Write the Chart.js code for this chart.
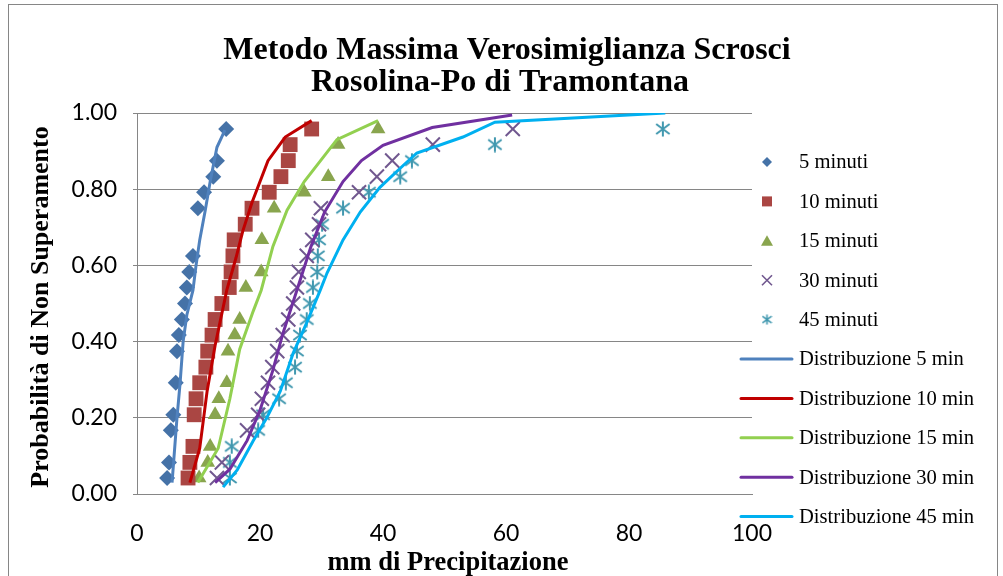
<!DOCTYPE html>
<html>
<head>
<meta charset="utf-8">
<script src="https://cdn.jsdelivr.net/npm/chart.js@4.4.1/dist/chart.umd.min.js"></script>
<style>
  body { margin: 0; background: #fff; }
  canvas { display: block; }
</style>
</head>
<body>
<canvas id="chart" width="1003" height="576"></canvas>
<script>
// observed values (mm) and non-exceedance probability
const x5 = [4.9, 5.2, 5.5, 5.9, 6.3, 6.5, 6.8, 7.3, 7.8, 8.1, 8.5, 9.1, 9.9, 10.9, 12.4, 13.0, 14.5];
const p5 = [0.042, 0.083, 0.167, 0.208, 0.292, 0.375, 0.417, 0.458, 0.500, 0.542, 0.583, 0.625, 0.750, 0.792, 0.833, 0.875, 0.958];

const x10 = [8.3, 8.6, 9.1, 9.3, 9.6, 10.2, 11.2, 11.5, 12.2, 12.7, 13.8, 15.0, 15.3, 15.6, 15.8, 17.6, 18.7, 21.5, 23.4, 24.6, 24.9, 28.4];
const p10 = [0.042, 0.083, 0.125, 0.208, 0.250, 0.292, 0.333, 0.375, 0.417, 0.458, 0.500, 0.542, 0.583, 0.625, 0.667, 0.708, 0.750, 0.792, 0.833, 0.875, 0.917, 0.958];

const x15 = [10.1, 11.5, 11.9, 12.7, 13.3, 14.6, 14.8, 15.9, 16.7, 17.7, 20.2, 20.3, 22.3, 27.2, 31.1, 32.7, 39.2];
const p15 = [0.042, 0.083, 0.125, 0.208, 0.250, 0.292, 0.375, 0.417, 0.458, 0.542, 0.583, 0.667, 0.750, 0.792, 0.833, 0.917, 0.958];

const x30 = [13.0, 13.8, 17.9, 19.7, 20.3, 21.3, 22.0, 22.8, 23.7, 24.6, 25.4, 26.0, 26.3, 27.6, 28.5, 29.6, 29.9, 36.1, 39.0, 41.5, 48.1, 61.1];
const p30 = [0.042, 0.083, 0.167, 0.208, 0.250, 0.292, 0.333, 0.375, 0.417, 0.458, 0.500, 0.542, 0.583, 0.625, 0.667, 0.708, 0.750, 0.792, 0.833, 0.875, 0.917, 0.958];

const x45 = [15.1, 15.1, 15.4, 19.7, 20.5, 23.1, 24.2, 25.7, 26.0, 26.5, 27.6, 28.1, 28.6, 29.3, 29.4, 29.6, 30.1, 33.5, 37.7, 42.8, 44.7, 58.2, 85.5];
const p45 = [0.042, 0.083, 0.125, 0.167, 0.208, 0.250, 0.292, 0.333, 0.375, 0.417, 0.458, 0.500, 0.542, 0.583, 0.625, 0.667, 0.708, 0.750, 0.792, 0.833, 0.875, 0.917, 0.958];

// fitted distributions
const dx5 = [5.7, 6.5, 7.0, 7.5, 8.1, 9.1, 9.6, 10.2, 11.1, 11.9, 13.0, 14.3];
const dp5 = [0.03, 0.20, 0.29, 0.40, 0.47, 0.535, 0.60, 0.667, 0.745, 0.82, 0.91, 0.955];

const dx10 = [8.6, 10.2, 11.4, 12.7, 14.6, 16.1, 17.2, 18.7, 21.3, 24.1, 28.4];
const dp10 = [0.03, 0.12, 0.27, 0.39, 0.535, 0.62, 0.69, 0.765, 0.875, 0.937, 0.98];

const dx15 = [9.9, 13.2, 15.1, 16.7, 18.9, 20.2, 22.1, 24.4, 27.2, 32.5, 39.2];
const dp15 = [0.03, 0.12, 0.25, 0.38, 0.48, 0.535, 0.65, 0.745, 0.82, 0.93, 0.98];

const dx30 = [12.7, 15.1, 17.9, 20.0, 22.1, 23.7, 26.0, 28.3, 30.5, 33.5, 36.5, 40.0, 48.0, 61.0];
const dp30 = [0.03, 0.065, 0.14, 0.22, 0.325, 0.42, 0.535, 0.65, 0.74, 0.82, 0.875, 0.915, 0.962, 0.995];

const dx45 = [14.0, 16.3, 18.9, 21.1, 23.3, 25.4, 27.6, 29.8, 30.9, 33.5, 36.3, 39.5, 42.8, 45.5, 53.0, 58.2, 85.9];
const dp45 = [0.018, 0.063, 0.14, 0.20, 0.27, 0.37, 0.45, 0.535, 0.58, 0.667, 0.74, 0.805, 0.855, 0.895, 0.937, 0.976, 1.0];

const xTicks = [0, 20, 40, 60, 80, 100];
const yTicks = [0, 0.2, 0.4, 0.6, 0.8, 1.0];

const pts = (xs, ys) => xs.map((v, i) => ({ x: v, y: ys[i] }));

// excel style asterisk marker
function asterisk(size, color, lw) {
  const c = document.createElement("canvas");
  c.width = size; c.height = size;
  const g = c.getContext("2d");
  g.strokeStyle = color;
  g.lineWidth = lw;
  const m = size / 2, d = size * 0.42;
  g.beginPath();
  g.moveTo(m, 0.5); g.lineTo(m, size - 0.5);
  g.moveTo(m - d, m - d * 0.75); g.lineTo(m + d, m + d * 0.75);
  g.moveTo(m + d, m - d * 0.75); g.lineTo(m - d, m + d * 0.75);
  g.stroke();
  return c;
}

const teal = "#4198AF";
const star = asterisk(16, teal, 2);

const markerSets = [
  { label: "5 minuti", data: pts(x5, p5), pointStyle: "rectRot", radius: 8, color: "#4572A7" },
  { label: "10 minuti", data: pts(x10, p10), pointStyle: "rect", radius: 10.5, color: "#AA4643" },
  { label: "15 minuti", data: pts(x15, p15), pointStyle: "triangle", radius: 8.5, color: "#89A54E" },
  { label: "30 minuti", data: pts(x30, p30), pointStyle: "crossRot", radius: 10, color: "#71588F" },
  { label: "45 minuti", data: pts(x45, p45), pointStyle: star, radius: 8, color: teal }
];

const lineSets = [
  { label: "Distribuzione 5 min", data: pts(dx5, dp5), color: "#4F81BD" },
  { label: "Distribuzione 10 min", data: pts(dx10, dp10), color: "#C00000" },
  { label: "Distribuzione 15 min", data: pts(dx15, dp15), color: "#92D050" },
  { label: "Distribuzione 30 min", data: pts(dx30, dp30), color: "#7030A0" },
  { label: "Distribuzione 45 min", data: pts(dx45, dp45), color: "#00B0F0" }
];

const datasets = [];
markerSets.forEach((s) => {
  const cross = s.pointStyle === "crossRot";
  datasets.push({
    label: s.label,
    data: s.data,
    showLine: false,
    pointStyle: s.pointStyle,
    pointRadius: s.radius,
    pointHoverRadius: s.radius,
    pointBackgroundColor: s.color,
    pointBorderColor: s.color,
    pointBorderWidth: cross ? 2 : 0,
    order: 2
  });
});
lineSets.forEach((s) => {
  datasets.push({
    label: s.label,
    data: s.data,
    showLine: true,
    borderColor: s.color,
    borderWidth: 3,
    pointRadius: 0,
    pointHoverRadius: 0,
    tension: 0,
    fill: false,
    order: 1
  });
});

const serif = "'Liberation Serif', 'Times New Roman', serif";
const sans = "Lato, 'Liberation Sans', sans-serif";

function drawMarker(ctx, s, x, y) {
  ctx.save();
  ctx.fillStyle = s.color;
  ctx.strokeStyle = s.color;
  const r = 5;
  ctx.beginPath();
  if (s.pointStyle === "rectRot") {
    ctx.moveTo(x, y - r); ctx.lineTo(x + r, y); ctx.lineTo(x, y + r); ctx.lineTo(x - r, y);
    ctx.closePath(); ctx.fill();
  } else if (s.pointStyle === "rect") {
    ctx.rect(x - 5, y - 5, 10, 10); ctx.fill();
  } else if (s.pointStyle === "triangle") {
    ctx.moveTo(x, y - 5.5); ctx.lineTo(x + 6, y + 5); ctx.lineTo(x - 6, y + 5);
    ctx.closePath(); ctx.fill();
  } else if (s.pointStyle === "crossRot") {
    ctx.lineWidth = 1.6;
    ctx.moveTo(x - 5, y - 5); ctx.lineTo(x + 5, y + 5);
    ctx.moveTo(x + 5, y - 5); ctx.lineTo(x - 5, y + 5);
    ctx.stroke();
  } else {
    const img = asterisk(11, s.color, 1.6);
    ctx.drawImage(img, x - 5.5, y - 5.5);
  }
  ctx.restore();
}

const decor = {
  id: "decor",
  afterDraw(chart) {
    const ctx = chart.ctx;
    ctx.save();
    // outer frame
    ctx.strokeStyle = "#868686";
    ctx.lineWidth = 1;
    ctx.strokeRect(8.5, 4.5, 989, 600);

    // title
    ctx.fillStyle = "#000";
    ctx.textAlign = "center";
    ctx.textBaseline = "alphabetic";
    ctx.font = "bold 32px " + serif;
    ctx.fillText("Metodo Massima Verosimiglianza Scrosci", 507, 59);
    ctx.fillText("Rosolina-Po di Tramontana", 500, 91);

    // axis titles
    ctx.font = "bold 26.5px " + serif;
    ctx.fillText("mm di Precipitazione", 448, 570);
    ctx.font = "bold 26px " + serif;
    ctx.save();
    ctx.translate(48, 307);
    ctx.rotate(-Math.PI / 2);
    ctx.fillText("Probabilità di Non Superamento", 0, 0);
    ctx.restore();

    // legend
    ctx.font = "20.6px " + serif;
    ctx.textAlign = "left";
    ctx.textBaseline = "middle";
    const items = markerSets.concat(lineSets);
    items.forEach((s, i) => {
      const y = 162 + i * 39.4;
      if (i < markerSets.length) {
        drawMarker(ctx, s, 767, y);
      } else {
        ctx.save();
        ctx.strokeStyle = s.color;
        ctx.lineWidth = 3;
        ctx.lineCap = "round";
        ctx.beginPath();
        ctx.moveTo(741, y);
        ctx.lineTo(792, y);
        ctx.stroke();
        ctx.restore();
      }
      ctx.fillStyle = "#000";
      ctx.fillText(s.label, 799, y + 1);
    });
    ctx.restore();
  }
};

new Chart(document.getElementById("chart"), {
  type: "scatter",
  data: { datasets: datasets },
  options: {
    responsive: false,
    devicePixelRatio: 1,
    animation: false,
    events: [],
    layout: { padding: { left: 0, top: 113, right: 251, bottom: 0 } },
    plugins: {
      legend: { display: false },
      title: { display: false },
      tooltip: { enabled: false }
    },
    scales: {
      x: {
        type: "linear",
        min: 0,
        max: 100,
        afterBuildTicks: (axis) => { axis.ticks = xTicks.map((v) => ({ value: v })); },
        afterFit: (axis) => { axis.height = 82; },
        grid: { display: false, drawTicks: false },
        border: { display: true, color: "#868686", width: 1 },
        ticks: {
          padding: 26,
          color: "#000",
          font: { family: sans, size: 23 },
          maxRotation: 0
        }
      },
      y: {
        type: "linear",
        min: 0,
        max: 1,
        afterBuildTicks: (axis) => { axis.ticks = yTicks.map((v) => ({ value: v })); },
        afterFit: (axis) => { axis.width = 137; },
        grid: { color: "#868686", lineWidth: 1, drawTicks: true, tickLength: 4 },
        border: { display: true, color: "#868686", width: 1 },
        ticks: {
          padding: 16,
          color: "#000",
          font: { family: sans, size: 23 },
          callback: (v) => Number(v).toFixed(2)
        }
      }
    }
  },
  plugins: [decor]
});
</script>
</body>
</html>
